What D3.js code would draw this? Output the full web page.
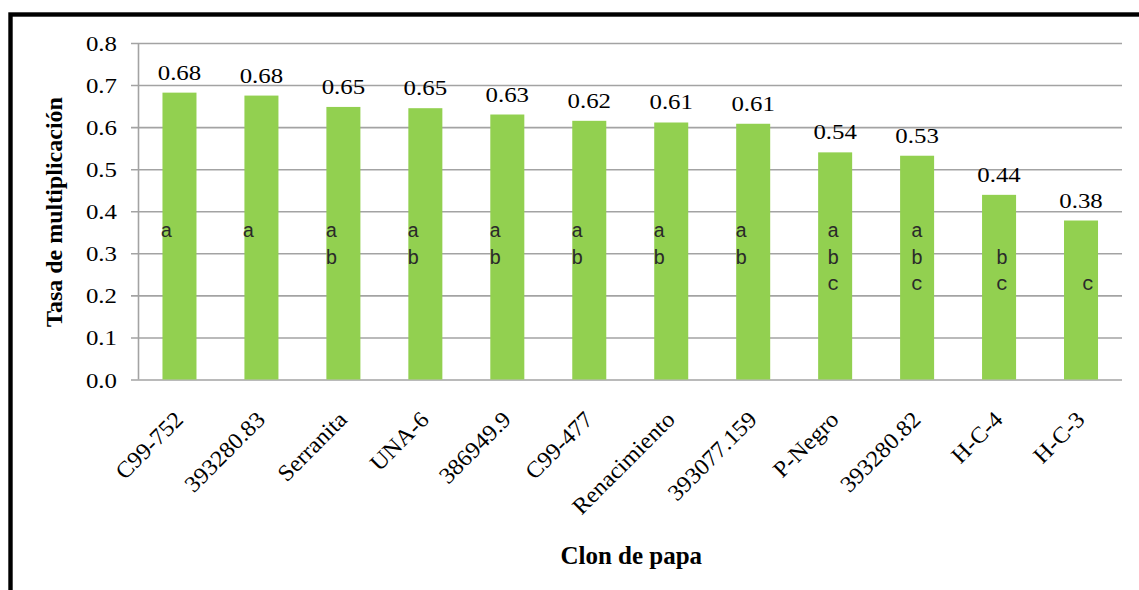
<!DOCTYPE html>
<html>
<head>
<meta charset="utf-8">
<script src="https://cdn.jsdelivr.net/npm/d3@7/dist/d3.min.js"></script>
<style>
  html, body { margin: 0; padding: 0; background: #ffffff; }
  svg { display: block; }
</style>
</head>
<body>
<svg id="chart" width="1139" height="590"></svg>
<script>
// Potato clones and their multiplication rate
const clones = ["C99-752", "393280.83", "Serranita", "UNA-6", "386949.9", "C99-477",
                "Renacimiento", "393077.159", "P-Negro", "393280.82", "H-C-4", "H-C-3"];
const rates = [0.682, 0.675, 0.648, 0.645, 0.630, 0.615, 0.611, 0.608, 0.540, 0.532, 0.439, 0.378];
const rateLabels = ["0.68", "0.68", "0.65", "0.65", "0.63", "0.62", "0.61", "0.61", "0.54", "0.53", "0.44", "0.38"];
// Mean-separation groups (Tukey letters)
const groups = ["a", "a", "ab", "ab", "ab", "ab", "ab", "ab", "abc", "abc", "bc", "c"];
const yTicks = [0, 0.1, 0.2, 0.3, 0.4, 0.5, 0.6, 0.7, 0.8];
const yTitle = "Tasa de multiplicación";
const xTitle = "Clon de papa";

const svg = d3.select("#chart");
const W = 1139, H = 590;
const plot = { left: 138.5, right: 1122, top: 43, bottom: 379.5 };
const stretch = 1.13;          // horizontal widening of the serif labels
const serif = "Liberation Serif, Times New Roman, serif";
const mono = "Liberation Mono, Courier New, monospace";
const gridColor = "#a3a3a3";
const barColor = "#92d050";

// Widen a text element's glyphs horizontally without changing its font
function widen(sel, k) {
  sel.each(function () {
    const w = this.getComputedTextLength();
    d3.select(this).attr("textLength", w * k).attr("lengthAdjust", "spacingAndGlyphs");
  });
}

svg.append("rect").attr("width", W).attr("height", H).attr("fill", "#ffffff");

// Outer frame (runs off the right and bottom edges)
svg.append("rect")
  .attr("x", 10.5).attr("y", 14.5)
  .attr("width", W + 20).attr("height", H + 20)
  .attr("fill", "none").attr("stroke", "#000").attr("stroke-width", 4.4);

const x = d3.scaleBand()
  .domain(clones)
  .range([plot.left, plot.right])
  .paddingInner(0.585)
  .paddingOuter(0.2925);

const y = d3.scaleLinear().domain([0, 0.8]).range([plot.bottom, plot.top]);

// Horizontal gridlines with small outside ticks
const yAxis = d3.axisLeft(y)
  .tickValues(yTicks)
  .tickSize(-(plot.right - plot.left))
  .tickFormat("");
const gy = svg.append("g").attr("transform", `translate(${plot.left},0)`).call(yAxis);
gy.select(".domain").remove();
gy.selectAll(".tick line")
  .attr("x1", -7.5)
  .attr("stroke", gridColor).attr("stroke-width", 1.6);

// Vertical axis line
svg.append("line")
  .attr("x1", plot.left).attr("x2", plot.left)
  .attr("y1", y(0.8)).attr("y2", y(0))
  .attr("stroke", gridColor).attr("stroke-width", 1.6);

// Tick labels
svg.append("g").selectAll("text")
  .data(yTicks)
  .join("text")
  .attr("x", 117).attr("y", d => y(d) + 8)
  .attr("text-anchor", "end")
  .style("font-family", serif).style("font-size", "22px").attr("fill", "#000")
  .text(d => d3.format(".1f")(d))
  .call(widen, stretch);

// Bars
svg.append("g").selectAll("rect")
  .data(clones)
  .join("rect")
  .attr("x", d => x(d))
  .attr("width", x.bandwidth())
  .attr("y", (d, i) => y(rates[i]))
  .attr("height", (d, i) => y(0) - y(rates[i]))
  .attr("fill", barColor);

// Value labels above bars
svg.append("g").selectAll("text")
  .data(clones)
  .join("text")
  .attr("x", d => x(d) + x.bandwidth() / 2)
  .attr("y", (d, i) => y(rates[i]) - 13)
  .attr("text-anchor", "middle")
  .style("font-family", serif).style("font-size", "22px").attr("fill", "#000")
  .text((d, i) => rateLabels[i])
  .call(widen, stretch);

// Group letters stacked inside the bars, one row per letter
const rowBase = [237, 263.5, 290];
const letterNudge = [-2, -2, -1, -1, -1, -1, -1, -1, 9, 11, 14, 18];
const letterData = [];
clones.forEach((c, i) => {
  groups[i].split("").forEach(ch => {
    letterData.push({ clone: c, i, ch, row: "abc".indexOf(ch) });
  });
});
svg.append("g").selectAll("text")
  .data(letterData)
  .join("text")
  .attr("x", d => x(d.clone) + letterNudge[d.i])
  .attr("y", d => rowBase[d.row])
  .style("font-family", mono).style("font-size", "20px").attr("fill", "#2a2a2a")
  .text(d => d.ch);

// Rotated category labels
svg.append("g").selectAll("text")
  .data(clones)
  .join("text")
  .attr("transform", d =>
    `translate(${x(d) + x.bandwidth() / 2 + 5},421) rotate(-45)`)
  .attr("text-anchor", "end")
  .style("font-family", serif).style("font-size", "23px").attr("fill", "#000")
  .text(d => d)
  .call(widen, 1.05);

// Axis titles
svg.append("text")
  .attr("transform", `translate(62,212) rotate(-90)`)
  .attr("text-anchor", "middle")
  .style("font-family", serif).style("font-weight", "bold").style("font-size", "24px")
  .attr("fill", "#000")
  .text(yTitle);

svg.append("text")
  .attr("x", (plot.left + plot.right) / 2 + 1).attr("y", 564)
  .attr("text-anchor", "middle")
  .style("font-family", serif).style("font-weight", "bold").style("font-size", "25px")
  .attr("fill", "#000")
  .text(xTitle);
</script>
</body>
</html>
